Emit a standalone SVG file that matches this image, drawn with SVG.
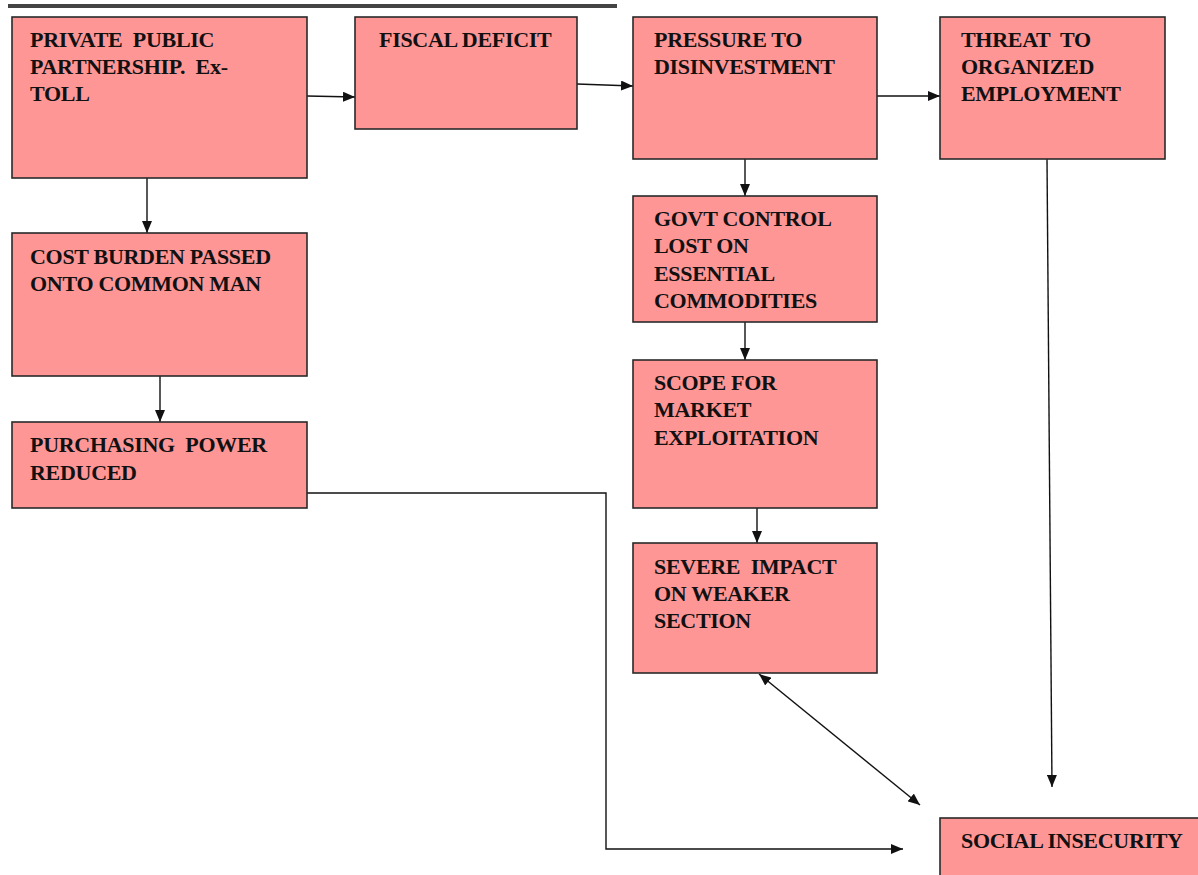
<svg xmlns="http://www.w3.org/2000/svg" width="1198" height="875" viewBox="0 0 1198 875">
<style>
.box{fill:#FF9696;stroke:#2a2a2a;stroke-width:1.6}
.t{font-family:"Liberation Serif","Times New Roman",serif;font-weight:bold;font-size:22px;fill:#111;letter-spacing:-0.3px}
.c{fill:none;stroke:#111;stroke-width:1.4}
</style>
<defs>
<marker id="ah" viewBox="0 0 12 10" refX="12" refY="5" markerWidth="12" markerHeight="10" markerUnits="userSpaceOnUse" orient="auto-start-reverse">
<path d="M0,0 L12,5 L0,10 z" fill="#111"/>
</marker>
</defs>
<rect x="8" y="4" width="609" height="4" fill="#444"/>
<g id="connectors">
<line class="c" x1="307" y1="96" x2="355" y2="97" marker-end="url(#ah)"/>
<line class="c" x1="577" y1="84" x2="633" y2="86" marker-end="url(#ah)"/>
<line class="c" x1="877" y1="96" x2="940" y2="96" marker-end="url(#ah)"/>
<line class="c" x1="147" y1="178" x2="147" y2="233" marker-end="url(#ah)"/>
<line class="c" x1="160" y1="376" x2="160" y2="422" marker-end="url(#ah)"/>
<line class="c" x1="745" y1="159" x2="745" y2="196" marker-end="url(#ah)"/>
<line class="c" x1="745" y1="322" x2="745" y2="360" marker-end="url(#ah)"/>
<line class="c" x1="757" y1="508" x2="757" y2="543" marker-end="url(#ah)"/>
<polyline class="c" points="307,493 606,493 606,849 903,849" marker-end="url(#ah)"/>
<line class="c" x1="1047" y1="159" x2="1052" y2="787" marker-end="url(#ah)"/>
<line class="c" x1="759" y1="674" x2="920" y2="805" marker-start="url(#ah)" marker-end="url(#ah)"/>
</g>
<g id="n1"><rect class="box" x="12" y="17" width="295" height="161"/>
<text class="t" x="30" y="47" xml:space="preserve">PRIVATE  PUBLIC</text><text class="t" x="30" y="74" xml:space="preserve">PARTNERSHIP.  Ex-</text><text class="t" x="30" y="101">TOLL</text></g>
<g id="n2"><rect class="box" x="355" y="17" width="222" height="112"/>
<text class="t" x="379" y="47">FISCAL DEFICIT</text></g>
<g id="n3"><rect class="box" x="633" y="17" width="244" height="142"/>
<text class="t" x="654" y="47">PRESSURE TO</text><text class="t" x="654" y="74">DISINVESTMENT</text></g>
<g id="n4"><rect class="box" x="940" y="17" width="225" height="142"/>
<text class="t" x="961" y="47" xml:space="preserve">THREAT  TO</text><text class="t" x="961" y="74">ORGANIZED</text><text class="t" x="961" y="101">EMPLOYMENT</text></g>
<g id="n5"><rect class="box" x="12" y="233" width="295" height="143"/>
<text class="t" x="30" y="264">COST BURDEN PASSED</text><text class="t" x="30" y="291">ONTO COMMON MAN</text></g>
<g id="n6"><rect class="box" x="12" y="422" width="295" height="86"/>
<text class="t" x="30" y="452" xml:space="preserve">PURCHASING  POWER</text><text class="t" x="30" y="480">REDUCED</text></g>
<g id="n7"><rect class="box" x="633" y="196" width="244" height="126"/>
<text class="t" x="654" y="226">GOVT CONTROL</text><text class="t" x="654" y="253">LOST ON</text><text class="t" x="654" y="281">ESSENTIAL</text><text class="t" x="654" y="308">COMMODITIES</text></g>
<g id="n8"><rect class="box" x="633" y="360" width="244" height="148"/>
<text class="t" x="654" y="390">SCOPE FOR</text><text class="t" x="654" y="417">MARKET</text><text class="t" x="654" y="445">EXPLOITATION</text></g>
<g id="n9"><rect class="box" x="633" y="543" width="244" height="130"/>
<text class="t" x="654" y="574" xml:space="preserve">SEVERE  IMPACT</text><text class="t" x="654" y="601">ON WEAKER</text><text class="t" x="654" y="628">SECTION</text></g>
<g id="n10"><rect class="box" x="940" y="818" width="262" height="62"/>
<text class="t" x="961" y="848">SOCIAL INSECURITY</text></g>
</svg>
